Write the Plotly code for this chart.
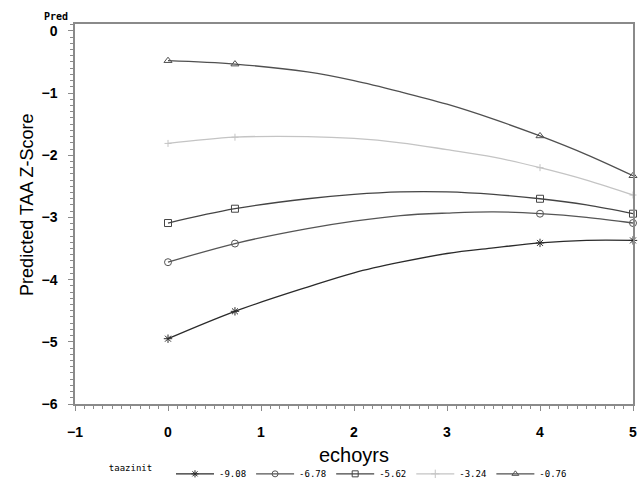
import plotly.graph_objects as go

# Observed points (markers)
obs_x = [0, 0.72, 4, 5]
series_names = ["-9.08", "-6.78", "-5.62", "-3.24", "-0.76"]
obs_y = {
    "-9.08": [-4.95, -4.51, -3.41, -3.37],
    "-6.78": [-3.72, -3.42, -2.94, -3.09],
    "-5.62": [-3.09, -2.86, -2.70, -2.94],
    "-3.24": [-1.81, -1.71, -2.20, -2.64],
    "-0.76": [-0.48, -0.535, -1.69, -2.33],
}
# Curve positions
curve_x = [0, 0.72, 1.5, 2, 2.5, 3, 3.5, 4, 4.5, 5]
curve_y = {
    "-9.08": [-4.95, -4.51, -4.12, -3.89, -3.72, -3.58, -3.49, -3.41, -3.37, -3.37],
    "-6.78": [-3.72, -3.42, -3.18, -3.06, -2.97, -2.93, -2.91, -2.94, -3.00, -3.09],
    "-5.62": [-3.09, -2.86, -2.70, -2.63, -2.59, -2.59, -2.63, -2.70, -2.80, -2.94],
    "-3.24": [-1.81, -1.71, -1.70, -1.73, -1.80, -1.91, -2.03, -2.20, -2.40, -2.64],
    "-0.76": [-0.48, -0.535, -0.66, -0.80, -0.98, -1.18, -1.42, -1.69, -1.99, -2.33],
}

colors = {"-9.08": "#2a2a2a", "-6.78": "#555555", "-5.62": "#444444",
          "-3.24": "#c4c4c4", "-0.76": "#505050"}
symbols = {"-9.08": "asterisk-open", "-6.78": "circle-open", "-5.62": "square-open",
           "-3.24": "cross-thin-open", "-0.76": "triangle-up-open"}
msize = {"-9.08": 7, "-6.78": 7, "-5.62": 7, "-3.24": 5, "-0.76": 7}

fig = go.Figure()
for name in series_names:
    c = colors[name]
    fig.add_trace(go.Scatter(x=curve_x, y=curve_y[name], mode="lines",
                             line=dict(color=c, width=1.3, shape="spline"),
                             showlegend=False, hoverinfo="skip"))
    fig.add_trace(go.Scatter(x=obs_x, y=obs_y[name], mode="markers",
                             marker=dict(symbol=symbols[name], size=msize[name], color=c,
                                         line=dict(color=c, width=1)),
                             showlegend=False, cliponaxis=False))
    fig.add_trace(go.Scatter(x=[None], y=[None], mode="lines+markers", name=name,
                             line=dict(color=c, width=1.3),
                             marker=dict(symbol=symbols[name], size=6, color=c,
                                         line=dict(color=c, width=1))))

tick_font = dict(family="Liberation Sans", size=14, color="black", weight="bold")
fig.update_layout(
    width=642, height=484,
    margin=dict(l=75, r=9, t=24, b=80, autoexpand=False),
    plot_bgcolor="white", paper_bgcolor="white",
    xaxis=dict(range=[-1, 5], tickmode="linear", dtick=1, tick0=-1, automargin=False,
               showgrid=False, zeroline=False, showline=True, linecolor="#8a8a8a",
               linewidth=1.5, mirror=True, ticks="outside", ticklen=5, tickcolor="#8a8a8a",
               minor=dict(dtick=0.1, ticks="outside", ticklen=3, tickcolor="#8a8a8a"),
               tickfont=tick_font, ticklabelstandoff=9),
    yaxis=dict(range=[-6, 0.11], tickmode="linear", dtick=1, tick0=0, automargin=False,
               showgrid=False, zeroline=False, showline=True, linecolor="#8a8a8a",
               linewidth=1.5, mirror=True, ticks="outside", ticklen=5, tickcolor="#8a8a8a",
               minor=dict(dtick=0.1, ticks="outside", ticklen=3, tickcolor="#8a8a8a"),
               tickfont=tick_font, ticklabelstandoff=8),
    legend=dict(orientation="h", x=0.057, xanchor="left",
                y=0.021, yref="container", yanchor="middle",
                font=dict(family="DejaVu Sans Mono", size=9, color="black"),
                title=dict(text="taazinit  ", side="left",
                           font=dict(family="DejaVu Sans Mono", size=9, color="black")),
                itemwidth=38, traceorder="normal"),
    annotations=[
        dict(text="Pred", x=-0.009, xref="paper", y=1.019, yref="paper",
             xanchor="right", yanchor="middle", showarrow=False,
             font=dict(family="DejaVu Sans Mono", size=10, color="black", weight="bold")),
        dict(text="echoyrs", x=0.5, xref="paper", y=-0.134, yref="paper",
             xanchor="center", yanchor="middle", showarrow=False,
             font=dict(family="Liberation Sans", size=20, color="black")),
        dict(text="Predicted TAA Z-Score", x=-0.086, xref="paper", y=0.524, yref="paper",
             xanchor="center", yanchor="middle", textangle=-90, showarrow=False,
             font=dict(family="Liberation Sans", size=18, color="black")),
    ],
)
fig.write_html("out.html", config={"displayModeBar": False},
               post_script="document.body.style.margin='0';")
